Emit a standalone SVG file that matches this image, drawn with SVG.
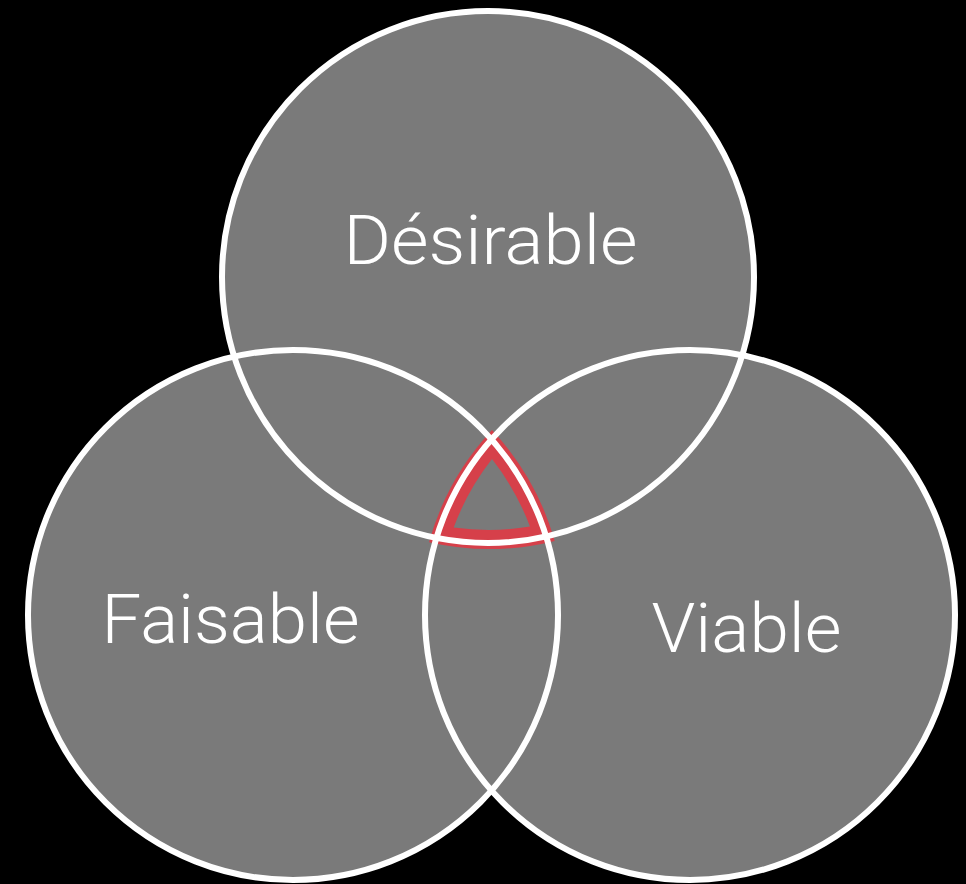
<svg xmlns="http://www.w3.org/2000/svg" width="966" height="884" viewBox="0 0 966 884">
  <style>
    .fill { fill: #7a7a7a; stroke: none; }
    .ring { fill: none; stroke: #ffffff; stroke-width: 6; }
    .label { fill: #ffffff; font-family: Roboto, "Liberation Sans", "DejaVu Sans", sans-serif; font-weight: 300; font-size: 68px; text-anchor: middle; }
    .core { fill: #d6404a; fill-rule: evenodd; stroke: none; }
  </style>
  <rect x="0" y="0" width="966" height="884" fill="#000000"/>
  <g id="fills">
    <circle class="fill" cx="488" cy="277" r="266"/>
    <circle class="fill" cx="293" cy="615" r="265"/>
    <circle class="fill" cx="690" cy="615" r="265"/>
  </g>
  <g id="intersection">
    <path class="core" d="M 492 430 A 271 271 0 0 0 429 542.3 A 271 271 0 0 0 554.7 540.9 A 271 271 0 0 0 492 430 Z M 492 459.1 A 252 252 0 0 0 453.7 527.5 A 252 252 0 0 0 530 526.6 A 252 252 0 0 0 492 459.1 Z"/>
  </g>
  <g id="node-desirable">
    <circle class="ring" cx="488" cy="277" r="266"/>
    <text class="label" x="490.5" y="264" textLength="294" lengthAdjust="spacingAndGlyphs">Désirable</text>
  </g>
  <g id="node-faisable">
    <circle class="ring" cx="293" cy="615" r="265"/>
    <text class="label" x="230.5" y="643" textLength="258" lengthAdjust="spacingAndGlyphs">Faisable</text>
  </g>
  <g id="node-viable">
    <circle class="ring" cx="690" cy="615" r="265"/>
    <text class="label" x="746.5" y="652" textLength="190" lengthAdjust="spacingAndGlyphs">Viable</text>
  </g>
</svg>
